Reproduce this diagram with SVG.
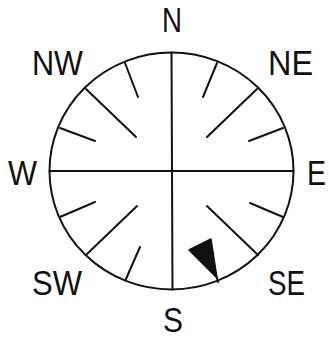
<svg xmlns="http://www.w3.org/2000/svg" width="329" height="340" viewBox="0 0 329 340">
<style>
.ln{stroke:#111;stroke-width:2;stroke-linecap:round;fill:none}
.lb{font-family:"Liberation Sans",Arial,sans-serif;font-size:35px;fill:#111}
</style>
<rect width="329" height="340" fill="#fff"/>
<g id="dial">
<ellipse class="ln" cx="171.5" cy="171" rx="122" ry="118.5" stroke-width="2.4"/>
</g>
<g id="connectors">
<line class="ln" x1="171.5" y1="52.5" x2="172.5" y2="289.5"/>
<line class="ln" x1="49.5" y1="171" x2="293.5" y2="171"/>
<line class="ln" x1="125" y1="63" x2="138" y2="97"/>
<line class="ln" x1="86" y1="89" x2="136" y2="137"/>
<line class="ln" x1="60" y1="128" x2="95" y2="141"/>
<line class="ln" x1="217" y1="63" x2="203" y2="97"/>
<line class="ln" x1="257" y1="89" x2="207" y2="137"/>
<line class="ln" x1="283" y1="128" x2="249" y2="141"/>
<line class="ln" x1="60" y1="217" x2="95" y2="202"/>
<line class="ln" x1="87" y1="254" x2="137" y2="206"/>
<line class="ln" x1="126" y1="279" x2="140" y2="247"/>
<line class="ln" x1="283" y1="217" x2="250" y2="203"/>
<line class="ln" x1="258" y1="255" x2="207" y2="206"/>
<line class="ln" x1="216" y1="275" x2="218" y2="282"/>
</g>
<g id="pointer">
<polygon points="189,250 211,239 217,278" fill="#111" stroke="#111" stroke-width="1.5" stroke-linejoin="round"/>
</g>
<g id="labels">
<text class="lb" x="162" y="32" textLength="20" lengthAdjust="spacingAndGlyphs">N</text>
<text class="lb" x="32" y="75" textLength="51" lengthAdjust="spacingAndGlyphs">NW</text>
<text class="lb" x="268" y="75" textLength="45" lengthAdjust="spacingAndGlyphs">NE</text>
<text class="lb" x="8" y="185" textLength="29" lengthAdjust="spacingAndGlyphs">W</text>
<text class="lb" x="307" y="185" textLength="19" lengthAdjust="spacingAndGlyphs">E</text>
<text class="lb" x="32" y="295" textLength="50" lengthAdjust="spacingAndGlyphs">SW</text>
<text class="lb" x="268" y="295" textLength="37" lengthAdjust="spacingAndGlyphs">SE</text>
<text class="lb" x="163" y="332" textLength="20" lengthAdjust="spacingAndGlyphs">S</text>
</g>
</svg>
